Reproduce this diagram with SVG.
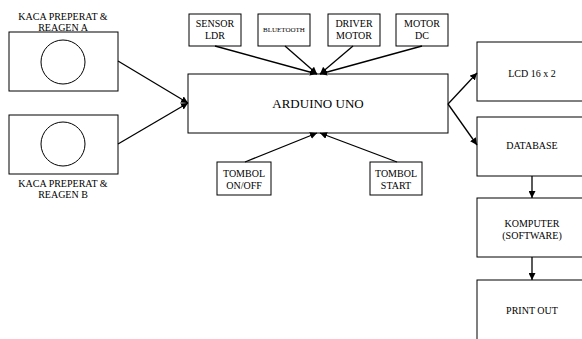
<svg xmlns="http://www.w3.org/2000/svg" width="582" height="339" viewBox="0 0 582 339" font-family="Liberation Serif, Times New Roman, serif">
<style>
.box{fill:#fff;stroke:#000;stroke-width:1}
.t{font-size:10px;fill:#000;text-anchor:middle}
.c{stroke:#000;stroke-width:1.3;fill:none;marker-end:url(#ah)}
</style>
<defs>
<marker id="ah" viewBox="0 0 10 10" refX="10" refY="5" markerWidth="7" markerHeight="7" markerUnits="userSpaceOnUse" orient="auto">
<path d="M0,0 L10,5 L0,10 z" fill="#000"/>
</marker>
</defs>
<rect width="582" height="339" fill="#fff"/>
<g id="kaca-a">
<rect class="box" x="9" y="32" width="109" height="59"/>
<circle cx="63" cy="62" r="22" fill="none" stroke="#000"/>
<text class="t" x="63" y="19.5" font-family="Liberation Serif, serif">KACA PREPERAT &amp;</text>
<text class="t" x="63" y="31" font-family="Liberation Serif, serif">REAGEN A</text>
</g>
<g id="kaca-b">
<rect class="box" x="9" y="115" width="109" height="59"/>
<circle cx="63" cy="144" r="22" fill="none" stroke="#000"/>
<text class="t" x="63" y="187" font-family="Liberation Serif, serif">KACA PREPERAT &amp;</text>
<text class="t" x="63" y="198" font-family="Liberation Serif, serif">REAGEN B</text>
</g>
<g id="sensor-ldr">
<rect class="box" x="189" y="14" width="52" height="32"/>
<text class="t" x="215" y="27" font-family="Liberation Serif, serif">SENSOR</text>
<text class="t" x="215" y="39" font-family="Liberation Serif, serif">LDR</text>
</g>
<g id="bluetooth">
<rect class="box" x="258" y="14" width="52" height="32"/>
<text class="t" x="284" y="32" font-family="Liberation Serif, serif" style="font-size:7px">BLUETOOTH</text>
</g>
<g id="driver-motor">
<rect class="box" x="328" y="14" width="52" height="32"/>
<text class="t" x="354" y="27" font-family="Liberation Serif, serif">DRIVER</text>
<text class="t" x="354" y="39" font-family="Liberation Serif, serif">MOTOR</text>
</g>
<g id="motor-dc">
<rect class="box" x="396" y="14" width="52" height="32"/>
<text class="t" x="422" y="27" font-family="Liberation Serif, serif">MOTOR</text>
<text class="t" x="422" y="39" font-family="Liberation Serif, serif">DC</text>
</g>
<g id="arduino">
<rect class="box" x="188" y="74" width="260" height="59"/>
<text class="t" x="318" y="108" font-family="Liberation Serif, serif" style="font-size:13px">ARDUINO UNO</text>
</g>
<g id="tombol-onoff">
<rect class="box" x="217" y="162" width="54" height="33"/>
<text class="t" x="244" y="177" font-family="Liberation Serif, serif">TOMBOL</text>
<text class="t" x="244" y="189" font-family="Liberation Serif, serif">ON/OFF</text>
</g>
<g id="tombol-start">
<rect class="box" x="370" y="162" width="52" height="33"/>
<text class="t" x="396" y="177" font-family="Liberation Serif, serif">TOMBOL</text>
<text class="t" x="396" y="189" font-family="Liberation Serif, serif">START</text>
</g>
<g id="lcd">
<rect class="box" x="477" y="42" width="112" height="59"/>
<text class="t" x="532" y="77" font-family="Liberation Serif, serif">LCD 16 x 2</text>
</g>
<g id="database">
<rect class="box" x="477" y="117" width="112" height="59"/>
<text class="t" x="532" y="149" font-family="Liberation Serif, serif">DATABASE</text>
</g>
<g id="komputer">
<rect class="box" x="477" y="198" width="112" height="59"/>
<text class="t" x="532" y="227" font-family="Liberation Serif, serif">KOMPUTER</text>
<text class="t" x="532" y="239" font-family="Liberation Serif, serif">(SOFTWARE)</text>
</g>
<g id="print-out">
<rect class="box" x="477" y="280" width="112" height="70"/>
<text class="t" x="532" y="314" font-family="Liberation Serif, serif">PRINT OUT</text>
</g>
<g id="connectors">
<line class="c" x1="118" y1="61" x2="188" y2="103"/>
<line class="c" x1="118" y1="144" x2="188" y2="103"/>
<line class="c" x1="215" y1="46" x2="317" y2="74"/>
<line class="c" x1="285" y1="46" x2="317" y2="74"/>
<line class="c" x1="353" y1="46" x2="320" y2="74"/>
<line class="c" x1="422" y1="46" x2="320" y2="74"/>
<line class="c" x1="245" y1="162" x2="317" y2="133"/>
<line class="c" x1="397" y1="162" x2="320" y2="133"/>
<line class="c" x1="448" y1="104" x2="477" y2="73"/>
<line class="c" x1="448" y1="104" x2="477" y2="145"/>
<line class="c" x1="532" y1="176" x2="532" y2="198"/>
<line class="c" x1="532" y1="257" x2="532" y2="280"/>
</g>
</svg>
